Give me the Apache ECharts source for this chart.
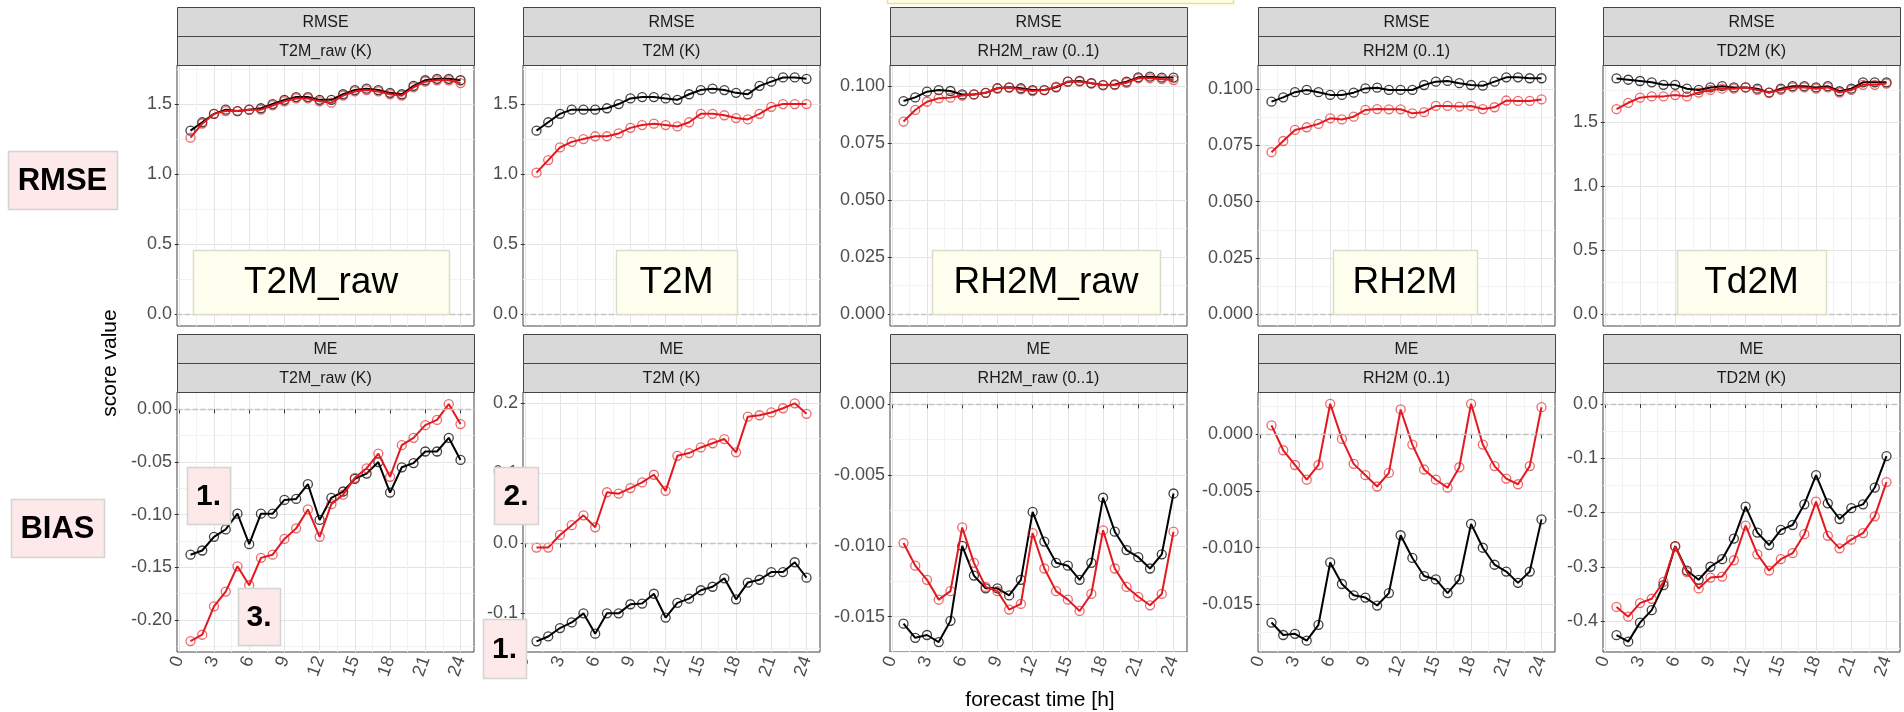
<!DOCTYPE html>
<html>
<head>
<meta charset="utf-8">
<script src="https://cdn.jsdelivr.net/npm/echarts@6/dist/echarts.min.js"></script>
<style>
  html, body { margin: 0; padding: 0; background: #fff; }
  #chart-container { width: 1904px; height: 712px; }
</style>
</head>
<body>
<div id="chart-container"></div>
<script>
var dom = document.getElementById("chart-container");
var myChart = echarts.init(dom, null, { renderer: "canvas" });

const font = '"Liberation Sans", Arial, sans-serif';

// forecast hours and tick labels
const hours = [1, 2, 3, 4, 5, 6, 7, 8, 9, 10, 11, 12, 13, 14, 15, 16, 17, 18, 19, 20, 21, 22, 23, 24];
const hourTicks = [0, 3, 6, 9, 12, 15, 18, 21, 24];

const metricNames = ["RMSE", "ME"];
const variableNames = ["T2M_raw (K)", "T2M (K)", "RH2M_raw (0..1)", "RH2M (0..1)", "TD2M (K)"];
const boxNames = ["T2M_raw", "T2M", "RH2M_raw", "RH2M", "Td2M"];

// RMSE (top row), black and red curves
const rmseT2mRawBlack = [1.31, 1.37, 1.43, 1.46, 1.45, 1.46, 1.47, 1.50, 1.53, 1.55, 1.55, 1.53, 1.53, 1.57, 1.60, 1.61, 1.60, 1.58, 1.57, 1.63, 1.67, 1.68, 1.68, 1.67];
const rmseT2mRawRed = [1.26, 1.36, 1.43, 1.45, 1.45, 1.46, 1.46, 1.49, 1.52, 1.54, 1.54, 1.52, 1.51, 1.56, 1.59, 1.60, 1.59, 1.57, 1.56, 1.62, 1.66, 1.67, 1.67, 1.65];
const rmseT2mBlack = [1.31, 1.37, 1.43, 1.46, 1.46, 1.46, 1.47, 1.50, 1.54, 1.55, 1.55, 1.54, 1.53, 1.57, 1.60, 1.61, 1.60, 1.58, 1.57, 1.63, 1.66, 1.69, 1.69, 1.68];
const rmseT2mRed = [1.01, 1.10, 1.19, 1.23, 1.25, 1.27, 1.27, 1.29, 1.33, 1.35, 1.36, 1.35, 1.34, 1.37, 1.43, 1.43, 1.42, 1.40, 1.39, 1.43, 1.48, 1.50, 1.50, 1.50];
const rmseRh2mRawBlack = [0.0934, 0.0950, 0.0975, 0.0982, 0.0978, 0.0963, 0.0963, 0.0970, 0.0990, 0.0994, 0.0990, 0.0982, 0.0982, 0.0994, 0.1019, 0.1022, 0.1012, 0.1004, 0.1007, 0.1019, 0.1038, 0.1041, 0.1037, 0.1037];
const rmseRh2mRawRed = [0.0844, 0.0895, 0.0931, 0.0946, 0.0949, 0.0958, 0.0963, 0.0970, 0.0990, 0.0993, 0.0985, 0.0978, 0.0982, 0.0997, 0.1019, 0.1019, 0.1012, 0.1004, 0.1004, 0.1014, 0.1034, 0.1034, 0.1030, 0.1026];
const rmseRh2mBlack = [0.0945, 0.0964, 0.0987, 0.0997, 0.0987, 0.0975, 0.0975, 0.0985, 0.1004, 0.1007, 0.0997, 0.0997, 0.0997, 0.1019, 0.1034, 0.1037, 0.1027, 0.1019, 0.1016, 0.1034, 0.1053, 0.1053, 0.1049, 0.1049];
const rmseRh2mRed = [0.0720, 0.0770, 0.0819, 0.0831, 0.0846, 0.0871, 0.0866, 0.0878, 0.0908, 0.0912, 0.0911, 0.0911, 0.0893, 0.0898, 0.0926, 0.0926, 0.0923, 0.0926, 0.0912, 0.0920, 0.0950, 0.0948, 0.0948, 0.0955];
const rmseTd2mBlack = [1.84, 1.83, 1.82, 1.81, 1.79, 1.79, 1.76, 1.75, 1.77, 1.78, 1.77, 1.77, 1.76, 1.73, 1.76, 1.78, 1.78, 1.77, 1.78, 1.74, 1.76, 1.81, 1.81, 1.81];
const rmseTd2mRed = [1.60, 1.65, 1.69, 1.70, 1.70, 1.71, 1.70, 1.73, 1.75, 1.76, 1.76, 1.77, 1.75, 1.73, 1.75, 1.77, 1.77, 1.76, 1.77, 1.73, 1.75, 1.79, 1.79, 1.80];

// ME (bottom row), black and red curves
const meT2mRawBlack = [-0.138, -0.134, -0.121, -0.114, -0.099, -0.128, -0.099, -0.099, -0.086, -0.085, -0.071, -0.105, -0.084, -0.078, -0.066, -0.061, -0.050, -0.079, -0.055, -0.051, -0.040, -0.040, -0.027, -0.048];
const meT2mRawRed = [-0.220, -0.214, -0.187, -0.173, -0.149, -0.167, -0.141, -0.138, -0.123, -0.113, -0.095, -0.121, -0.090, -0.081, -0.065, -0.056, -0.042, -0.064, -0.034, -0.027, -0.015, -0.010, 0.005, -0.014];
const meT2mBlack = [-0.140, -0.133, -0.121, -0.113, -0.100, -0.129, -0.100, -0.100, -0.087, -0.086, -0.072, -0.106, -0.085, -0.079, -0.067, -0.062, -0.050, -0.080, -0.056, -0.052, -0.041, -0.041, -0.027, -0.049];
const meT2mRed = [-0.006, -0.006, 0.012, 0.026, 0.040, 0.023, 0.073, 0.071, 0.079, 0.087, 0.098, 0.075, 0.125, 0.129, 0.137, 0.143, 0.149, 0.130, 0.181, 0.183, 0.187, 0.193, 0.200, 0.185];
const meRh2mRawBlack = [-0.0155, -0.0165, -0.0163, -0.0168, -0.0153, -0.0100, -0.0121, -0.0130, -0.0130, -0.0135, -0.0124, -0.0076, -0.0097, -0.0112, -0.0114, -0.0124, -0.0112, -0.0066, -0.0090, -0.0103, -0.0108, -0.0116, -0.0106, -0.0063];
const meRh2mRawRed = [-0.0098, -0.0114, -0.0124, -0.0138, -0.0132, -0.0087, -0.0112, -0.0129, -0.0132, -0.0145, -0.0141, -0.0091, -0.0116, -0.0132, -0.0138, -0.0146, -0.0134, -0.0089, -0.0116, -0.0129, -0.0136, -0.0142, -0.0134, -0.0090];
const meRh2mBlack = [-0.0166, -0.0177, -0.0176, -0.0182, -0.0168, -0.0113, -0.0132, -0.0142, -0.0144, -0.0151, -0.0140, -0.0089, -0.0109, -0.0125, -0.0128, -0.0140, -0.0128, -0.0079, -0.0100, -0.0115, -0.0121, -0.0131, -0.0121, -0.0075];
const meRh2mRed = [0.0008, -0.0014, -0.0027, -0.0040, -0.0027, 0.0027, -0.0004, -0.0026, -0.0036, -0.0046, -0.0034, 0.0022, -0.0009, -0.0031, -0.0040, -0.0047, -0.0029, 0.0027, -0.0009, -0.0028, -0.0039, -0.0044, -0.0028, 0.0024];
const meTd2mBlack = [-0.426, -0.438, -0.403, -0.380, -0.334, -0.262, -0.307, -0.324, -0.300, -0.286, -0.248, -0.189, -0.237, -0.260, -0.232, -0.223, -0.185, -0.131, -0.183, -0.212, -0.192, -0.185, -0.154, -0.096];
const meTd2mRed = [-0.374, -0.392, -0.367, -0.359, -0.328, -0.263, -0.310, -0.340, -0.320, -0.318, -0.288, -0.224, -0.277, -0.307, -0.286, -0.275, -0.240, -0.180, -0.243, -0.266, -0.250, -0.238, -0.207, -0.144];

// y tick labels per panel
const rmseTicks = [[0, 0.5, 1, 1.5], [0, 0.5, 1, 1.5], [0, 0.025, 0.05, 0.075, 0.1], [0, 0.025, 0.05, 0.075, 0.1], [0, 0.5, 1, 1.5]];
const meTicks = [[-0.2, -0.15, -0.1, -0.05, 0], [-0.1, 0, 0.1, 0.2], [-0.015, -0.01, -0.005, 0], [-0.015, -0.01, -0.005, 0], [-0.4, -0.3, -0.2, -0.1, 0]];
const rmseDigits = [1, 1, 3, 3, 1];
const meDigits = [2, 1, 3, 3, 1];

const blackRows = [
  [rmseT2mRawBlack, rmseT2mBlack, rmseRh2mRawBlack, rmseRh2mBlack, rmseTd2mBlack],
  [meT2mRawBlack, meT2mBlack, meRh2mRawBlack, meRh2mBlack, meTd2mBlack],
];
const redRows = [
  [rmseT2mRawRed, rmseT2mRed, rmseRh2mRawRed, rmseRh2mRed, rmseTd2mRed],
  [meT2mRawRed, meT2mRed, meRh2mRawRed, meRh2mRed, meTd2mRed],
];

// axis ranges (ggplot expanded)
const yRanges = [
  [[-0.085, 1.779], [-0.085, 1.779], [-0.0052, 0.1092], [-0.0053, 0.1108], [-0.093, 1.945]],
  [[-0.2304, 0.0165], [-0.1552, 0.2162], [-0.0175, 0.00087], [-0.0192, 0.00374], [-0.4571, 0.0221]],
];
const xMin = -0.15, xMax = 25.15;

// layout
const colLeft = [177, 523, 890, 1258, 1603];
const panelW = 297;
const plotTop = [65, 392];
const plotH = [261, 260];
const stripTop = [7, 334];
const stripH = 29;

function minorOf(ticks, min, max) {
  const step = ticks[1] - ticks[0];
  const out = [];
  for (let v = ticks[0] - step / 2; v <= max; v += step) {
    if (v >= min) out.push(Math.round(v * 1e6) / 1e6);
  }
  return out;
}

const grids = [], xAxes = [], yAxes = [], series = [], graphics = [];
const minorHours = minorOf(hourTicks, xMin, xMax);

for (let r = 0; r < 2; r++) {
  for (let c = 0; c < 5; c++) {
    const i = r * 5 + c;
    const ticks = r === 0 ? rmseTicks[c] : meTicks[c];
    const digits = r === 0 ? rmseDigits[c] : meDigits[c];
    const [ymin, ymax] = yRanges[r][c];

    grids.push({
      left: colLeft[c], top: plotTop[r], width: panelW, height: plotH[r],
      show: true, borderColor: "#444", borderWidth: 1, backgroundColor: "#fff",
      outerBoundsMode: "none",
    });

    xAxes.push({
      gridIndex: i, type: "value", min: xMin, max: xMax,
      axisLine: { show: false },
      axisTick: { show: r === 1, length: 4, lineStyle: { color: "#333" }, customValues: hourTicks },
      axisLabel: {
        show: r === 1, customValues: hourTicks, rotate: 70, margin: 5,
        fontSize: 18, color: "#4d4d4d", fontFamily: font,
      },
      splitLine: { show: true, lineStyle: { color: "#e4e4e4", width: 1 } },
    });
    xAxes.push({
      gridIndex: i, type: "value", min: xMin, max: xMax,
      axisLine: { show: false },
      axisTick: { show: false, customValues: minorHours },
      axisLabel: { show: false },
      splitLine: { show: true, lineStyle: { color: "#f3f3f3", width: 1 } },
    });

    yAxes.push({
      gridIndex: i, type: "value", min: ymin, max: ymax, position: "left",
      axisLine: { show: false },
      axisTick: { show: true, length: 4, lineStyle: { color: "#333" }, customValues: ticks },
      axisLabel: {
        customValues: ticks, margin: 5, fontSize: 18, color: "#4d4d4d", fontFamily: font,
        formatter: (v) => Number(v).toFixed(digits),
      },
      splitLine: { show: true, lineStyle: { color: "#e4e4e4", width: 1 } },
    });
    yAxes.push({
      gridIndex: i, type: "value", min: ymin, max: ymax, position: "right",
      axisLine: { show: false },
      axisTick: { show: false, customValues: minorOf(ticks, ymin, ymax) },
      axisLabel: { show: false },
      splitLine: { show: true, lineStyle: { color: "#f3f3f3", width: 1 } },
    });

    series.push({
      type: "line", xAxisIndex: 2 * i, yAxisIndex: 2 * i,
      data: hours.map((h, k) => [h, blackRows[r][c][k]]),
      symbol: "circle", symbolSize: 9,
      lineStyle: { color: "#000", width: 2 },
      itemStyle: { color: "rgba(0,0,0,0)", borderColor: "rgba(0,0,0,0.75)", borderWidth: 1.3 },
      markLine: {
        silent: true, symbol: "none", label: { show: false },
        lineStyle: { type: "dashed", color: "#c4c4c4", width: 1.3 },
        data: [{ yAxis: 0 }],
      },
      z: 3,
    });
    series.push({
      type: "line", xAxisIndex: 2 * i, yAxisIndex: 2 * i,
      data: hours.map((h, k) => [h, redRows[r][c][k]]),
      symbol: "circle", symbolSize: 9,
      lineStyle: { color: "#e3191f", width: 2 },
      itemStyle: { color: "rgba(0,0,0,0)", borderColor: "rgba(227,25,31,0.65)", borderWidth: 1.3 },
      z: 4,
    });

    // facet strips
    const labels = [metricNames[r], variableNames[c]];
    for (let s = 0; s < 2; s++) {
      const y0 = stripTop[r] + s * stripH;
      graphics.push({
        type: "rect", z: 50,
        shape: { x: colLeft[c] + 0.5, y: y0 + 0.5, width: panelW, height: stripH },
        style: { fill: "#d9d9d9", stroke: "#444", lineWidth: 1 },
      });
      graphics.push({
        type: "text", z: 51, x: colLeft[c] + panelW / 2, y: y0 + stripH / 2 + 1,
        style: { text: labels[s], font: "16px " + font, fill: "#1a1a1a", textAlign: "center", textVerticalAlign: "middle" },
      });
    }
  }
}

function box(x1, y1, x2, y2, fill, stroke, text, fontStr) {
  graphics.push({
    type: "rect", z: 100,
    shape: { x: x1 + 0.5, y: y1 + 0.5, width: x2 - x1, height: y2 - y1 },
    style: { fill: fill, stroke: stroke, lineWidth: 1.5 },
  });
  if (text) {
    graphics.push({
      type: "text", z: 101, x: (x1 + x2) / 2, y: (y1 + y2) / 2 + 1,
      style: { text: text, font: fontStr, fill: "#000", textAlign: "center", textVerticalAlign: "middle" },
    });
  }
}

// annotation boxes
const pink = "#fde9e9", pinkLine = "#d4d4d4";
const ivory = "#fffff0", ivoryLine = "#dcdccc";
box(8, 151, 117, 209, pink, pinkLine, "RMSE", "bold 31px " + font);
box(11, 499, 104, 557, pink, pinkLine, "BIAS", "bold 31px " + font);
box(187, 467, 230, 524, pink, pinkLine, "1.", "bold 30px " + font);
box(238, 588, 280, 645, pink, pinkLine, "3.", "bold 30px " + font);
box(494, 467, 538, 524, pink, pinkLine, "2.", "bold 30px " + font);
box(483, 619, 526, 678, pink, pinkLine, "1.", "bold 30px " + font);
const ivoryBoxes = [[193, 449], [616, 737], [932, 1160], [1333, 1477], [1677, 1826]];
ivoryBoxes.forEach((b, c) => box(b[0], 250, b[1], 314, ivory, ivoryLine, boxNames[c], "37px " + font));
box(887, -6, 1233, 3, "#fffde7", "#efe08a", null, null);

// axis titles
graphics.push({
  type: "text", z: 60, x: 110, y: 363, rotation: Math.PI / 2,
  style: { text: "score value", font: "21px " + font, fill: "#000", textAlign: "center", textVerticalAlign: "middle" },
});
graphics.push({
  type: "text", z: 60, x: 1040, y: 700,
  style: { text: "forecast time [h]", font: "21px " + font, fill: "#000", textAlign: "center", textVerticalAlign: "middle" },
});

var option = {
  animation: false,
  backgroundColor: "#fff",
  grid: grids,
  xAxis: xAxes,
  yAxis: yAxes,
  series: series,
  graphic: { elements: graphics },
};

myChart.setOption(option);
window.addEventListener("resize", myChart.resize);
</script>
</body>
</html>
